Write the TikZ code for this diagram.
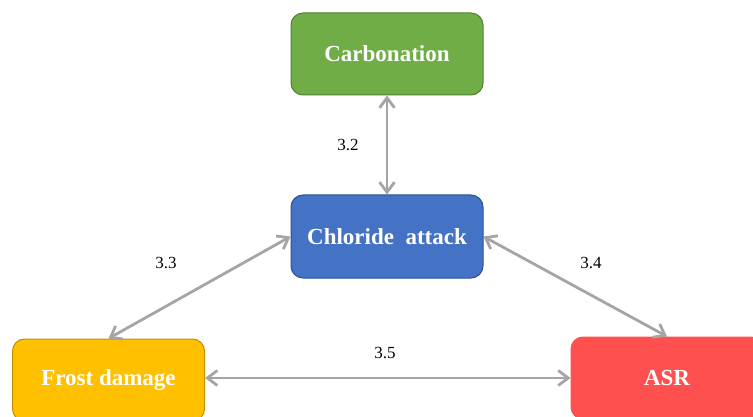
\documentclass[tikz,border=0pt]{standalone}
\usepackage{fontspec}
\setmainfont{Liberation Serif}
\usetikzlibrary{arrows.meta}
\definecolor{cgreen}{HTML}{70AD47}
\definecolor{cgreenb}{HTML}{507E32}
\definecolor{cblue}{HTML}{4472C4}
\definecolor{cblueb}{HTML}{2F528F}
\definecolor{cyellow}{HTML}{FFC000}
\definecolor{cyellowb}{HTML}{BF9000}
\definecolor{cred}{HTML}{FF5050}
\definecolor{clink}{HTML}{A5A5A5}
\tikzset{
  box/.style={rectangle, rounded corners=12pt, minimum width=192pt, minimum height=82pt,
    line width=1pt, text=white, font=\fontsize{23}{27}\selectfont\bfseries, inner sep=0pt},
  link/.style={draw=clink, line width=2.8pt,
    {Straight Barb[length=10pt,width=15pt,line width=2.8pt]}-{Straight Barb[length=10pt,width=15pt,line width=2.8pt]}},
  lbl/.style={font=\fontsize{17}{20}\selectfont, text=black}
}
\begin{document}
\begin{tikzpicture}[x=1pt,y=-1pt]
\useasboundingbox (0,0) rectangle (753,417);
\node[box, fill=cgreen, draw=cgreenb] (carb) at (387,54) {Carbonation};
\node[box, fill=cblue, draw=cblueb, minimum height=83pt] (chl) at (387,236.5) {Chloride\ \ attack};
\node[box, fill=cyellow, draw=cyellowb] (frost) at (108.5,380) {Frost damage};
\node[box, fill=cred, draw=cred] (asr) at (667,378) {ASR};
\draw[link] (carb.south) -- (chl.north);
\draw[link] (chl.west) -- (frost.north);
\draw[link] (chl.east) -- (asr.north);
\draw[link] (frost.east |- 0,378) -- (asr.west |- 0,378);
\node[lbl] (l32) at (348,145) {3.2};
\node[lbl] (l33) at (166,263) {3.3};
\node[lbl] (l34) at (591,263) {3.4};
\node[lbl] (l35) at (385,353) {3.5};
\end{tikzpicture}
\end{document}
